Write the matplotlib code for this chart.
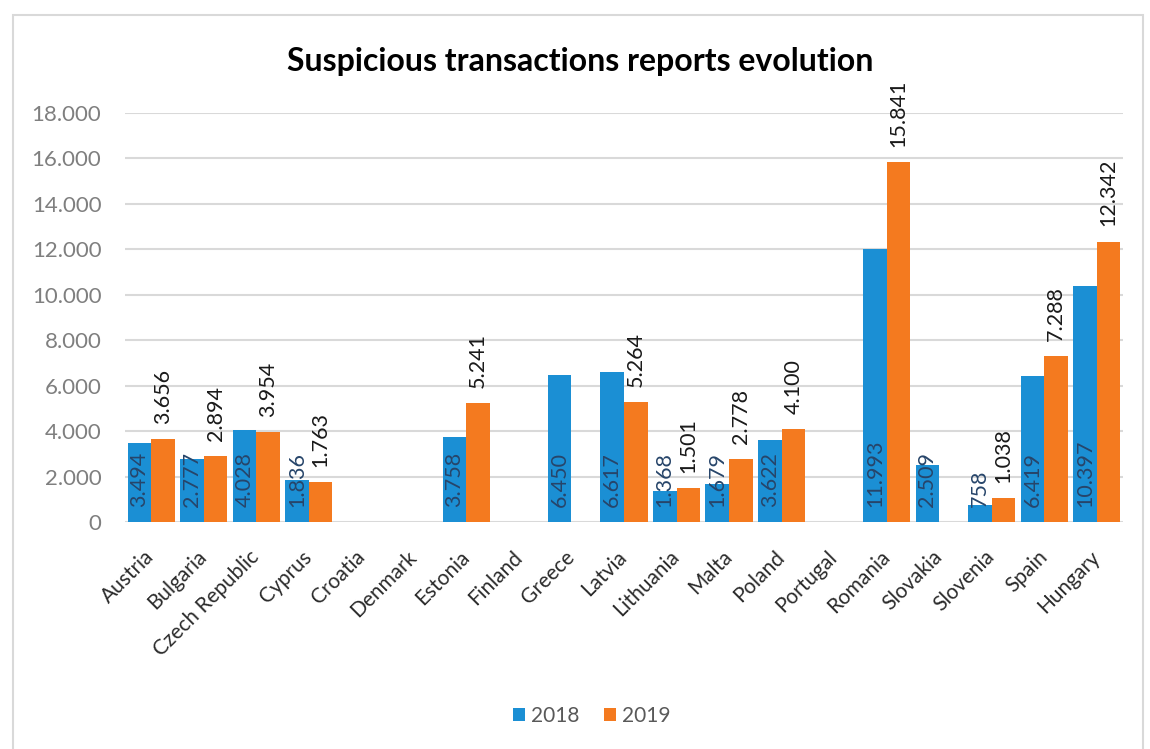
import matplotlib
matplotlib.use("Agg")
import matplotlib.pyplot as plt
import numpy as np
from matplotlib.patches import Rectangle

plt.rcParams['font.family'] = ['Lato', 'DejaVu Sans']

# ------------------------------
# DADOS
# ------------------------------
countries = ["Austria", "Bulgaria", "Czech Republic", "Cyprus", "Croatia", "Denmark",
             "Estonia", "Finland", "Greece", "Latvia", "Lithuania", "Malta", "Poland",
             "Portugal", "Romania", "Slovakia", "Slovenia", "Spain", "Hungary"]
# None = no value reported
values_2018 = [3494, 2777, 4028, 1836, None, None, 3758, None, 6450, 6617, 1368,
               1679, 3622, None, 11993, 2509, 758, 6419, 10397]
values_2019 = [3656, 2894, 3954, 1763, None, None, 5241, None, None, 5264, 1501,
               2778, 4100, None, 15841, None, 1038, 7288, 12342]
series_labels = ["2018", "2019"]
y_ticks = [0, 2000, 4000, 6000, 8000, 10000, 12000, 14000, 16000, 18000]

blue = "#1b8fd4"
orange = "#f47a1f"


def fmt(v):
    # separador de milhar com ponto
    return f"{v:,}".replace(",", ".")


fig = plt.figure(figsize=(11.5, 7.49), dpi=100)
ax = fig.add_axes([125 / 1150, 1 - 522 / 749, (1123 - 125) / 1150, (522 - 113) / 749])

x = np.arange(len(countries))
w = 0.45
v18 = np.array([np.nan if v is None else v for v in values_2018], dtype=float)
v19 = np.array([np.nan if v is None else v for v in values_2019], dtype=float)

ax.bar(x - w / 2, np.nan_to_num(v18), w, color=blue, label=series_labels[0], zorder=3)
ax.bar(x + w / 2, np.nan_to_num(v19), w, color=orange, label=series_labels[1], zorder=3)

# rótulos 2018: dentro da base
for xi, v in zip(x, values_2018):
    if v is None:
        continue
    ax.annotate(fmt(v), (xi - w / 2, 0), xytext=(0, 11), textcoords="offset points",
                rotation=90, ha="center", va="bottom", fontsize=15.5,
                color="#27456a", zorder=4, annotation_clip=False)

# rótulos 2019: acima da barra
for xi, v in zip(x, values_2019):
    if v is None:
        continue
    ax.annotate(fmt(v), (xi + w / 2, v), xytext=(0, 11), textcoords="offset points",
                rotation=90, ha="center", va="bottom", fontsize=15.5,
                color="#1a1a1a", zorder=4, annotation_clip=False)

ax.set_xlim(-0.5, len(countries) - 0.5)
ax.set_ylim(0, 18000)
ax.set_yticks(y_ticks)
ax.set_yticklabels([fmt(t) for t in y_ticks], fontsize=16, color="#7f7f7f")
ax.set_xticks(x)
ax.set_xticklabels(countries, rotation=45, ha="right", va="center",
                   rotation_mode="anchor", fontsize=15, color="#2b2b2b")
ax.tick_params(axis="both", length=0)
ax.tick_params(axis="y", pad=17)
ax.tick_params(axis="x", pad=23)
ax.grid(axis="y", color="#d9d9d9", linewidth=1.5, zorder=0)
for s in ax.spines.values():
    s.set_visible(False)

fig.text(580 / 1150, 1 - 62 / 749, "Suspicious transactions reports evolution",
         ha="center", va="center", fontsize=23, fontweight="bold", color="black")

fig.legend(loc="center", bbox_to_anchor=(592 / 1150, 1 - 716 / 749), ncol=2,
           frameon=False, fontsize=15, labelcolor="#595959", handlelength=0.55,
           handleheight=0.55, handletextpad=0.3, columnspacing=1.2)

# moldura do gráfico
fig.patches.append(Rectangle((13 / 1150, -0.02), 1130 / 1150, (749 - 15) / 749 + 0.02,
                             transform=fig.transFigure, fill=False,
                             edgecolor="#d9d9d9", linewidth=1.5))

fig.savefig("out.png", dpi=100)
